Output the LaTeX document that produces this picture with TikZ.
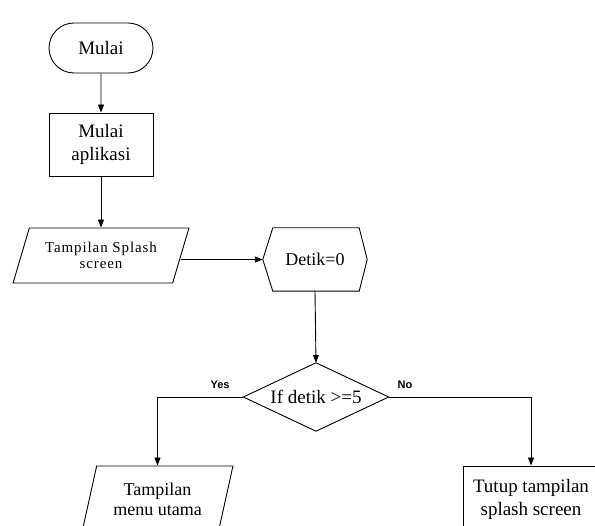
\documentclass[tikz,border=0pt]{standalone}
\usepackage{fontspec}
\setmainfont{Liberation Serif}
\newfontfamily\labfont{Liberation Sans}
\newfontfamily\spacedfont[LetterSpace=6]{Liberation Serif}
\usetikzlibrary{shapes.misc,shapes.geometric,arrows.meta}
\begin{document}
\begin{tikzpicture}[x=1pt,y=-1pt,
  box/.style={draw,line width=0.9pt,align=center,inner sep=0pt,font=\fontsize{19}{23}\selectfont},
  ghost/.style={rectangle,align=center,inner sep=0pt,font=\fontsize{19}{23}\selectfont},
  outline/.style={line width=0.9pt},
  arr/.style={line width=0.9pt,-{Triangle[length=8pt,width=6pt]}},
  lab/.style={font=\labfont\bfseries\fontsize{11}{13}\selectfont}]
\clip (0,0) rectangle (595,526);
\useasboundingbox (0,0) rectangle (595,526);
\node[box,rounded rectangle,minimum width=104pt,minimum height=50pt] (start) at (101,48) {Mulai};
\node[box,rectangle,minimum width=104pt,minimum height=63pt] (app) at (101,144.5) {Mulai\\aplikasi};
\node[box,trapezium,trapezium left angle=64,trapezium right angle=116,trapezium stretches=true,
  minimum width=176pt,minimum height=55pt,font=\spacedfont\fontsize{15}{15.5}\selectfont] (splash) at (101,255.5) {Tampilan Splash\\screen};
\node[ghost,minimum width=104pt,minimum height=63pt,font=\fontsize{18}{22}\selectfont] (hex) at (315,259.5) {Detik=0};
\draw[outline] (hex.west) -- ([xshift=10pt]hex.north west) -- ([xshift=-8pt]hex.north east) -- (hex.east)
  -- ([xshift=-8pt]hex.south east) -- ([xshift=10pt]hex.south west) -- cycle;
\node[ghost,minimum width=145pt,minimum height=68pt] (dec) at (316,397) {If detik >=5};
\draw[outline] (dec.north) -- (dec.east) -- (dec.south) -- (dec.west) -- cycle;
\node[box,trapezium,trapezium left angle=72,trapezium right angle=108,trapezium stretches=true,
  minimum width=151pt,minimum height=66pt,font=\fontsize{18}{20}\selectfont] (menu) at (157.5,499) {Tampilan\\menu utama};
\node[box,rectangle,minimum width=136pt,minimum height=66pt,font=\fontsize{19}{23}\selectfont] (close) at (531,499) {Tutup tampilan\\splash screen};
\draw[arr] (start) -- (app);
\draw[arr] (app) -- (splash);
\draw[arr] (splash.east |- hex.west) -- (hex.west);
\draw[arr] (hex.south) -- (dec.north);
\draw[arr] (dec.west) -| (menu.north);
\draw[arr] (dec.east) -| (close.north);
\node[lab] (yes) at (220,385) {Yes};
\node[lab] (no) at (405,385) {No};
\end{tikzpicture}
\end{document}
